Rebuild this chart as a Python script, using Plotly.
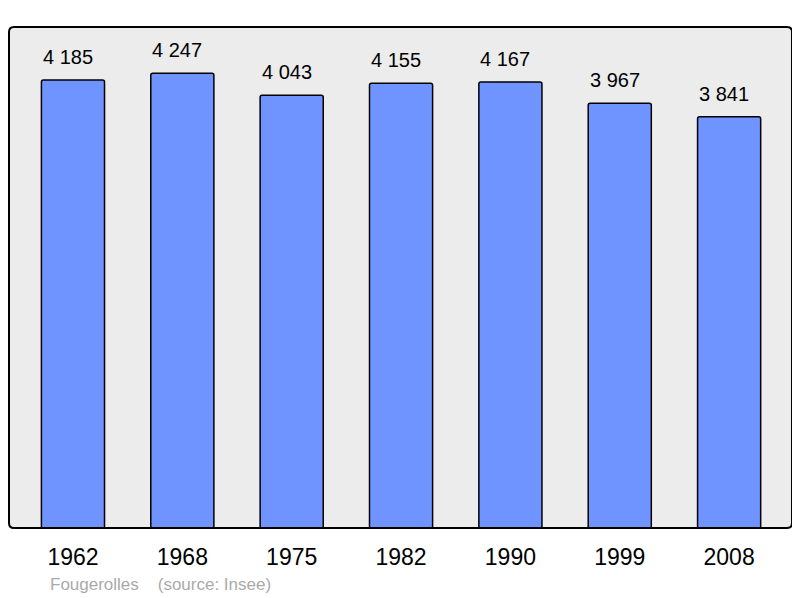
import plotly.graph_objects as go

years = ["1962", "1968", "1975", "1982", "1990", "1999", "2008"]
population = [4185, 4247, 4043, 4155, 4167, 3967, 3841]
value_labels = ["4 185", "4 247", "4 043", "4 155", "4 167", "3 967", "3 841"]

# the page has an 8px body margin, so the figure is drawn 8px smaller
W, H = 792, 590
L, R, T, B = 1, 8, 19, 70
FONT = "Liberation Sans, Arial, sans-serif"

fig = go.Figure()
fig.add_trace(go.Bar(
    x=years, y=population,
    width=0.577,
    marker=dict(color="#7094ff", line=dict(color="black", width=1.5), cornerradius=2),
    hoverinfo="skip",
))

for i, (v, lab) in enumerate(zip(population, value_labels)):
    fig.add_annotation(x=i, y=v, text=lab, showarrow=False, yanchor="bottom",
                       yshift=10, xshift=-5, font=dict(size=20, color="black", family=FONT))

pw, ph = W - L - R, H - T - B
fig.add_annotation(xref="paper", yref="paper", x=(40 - L) / pw, y=-(576 - (H - B)) / ph,
                   xanchor="left", yanchor="middle", showarrow=False,
                   text="Fougerolles&nbsp;&nbsp;&nbsp;&nbsp;(source: Insee)",
                   font=dict(size=17, color="#aaaaaa", family=FONT))

# rounded border around plot area
rx, ry = 5 / pw, 5 / ph
path = (f"M {rx},0 L {1-rx},0 Q 1,0 1,{ry} L 1,{1-ry} Q 1,1 {1-rx},1 "
        f"L {rx},1 Q 0,1 0,{1-ry} L 0,{ry} Q 0,0 {rx},0 Z")
fig.add_shape(type="path", xref="paper", yref="paper", path=path,
              line=dict(color="black", width=2), layer="above")

fig.update_layout(
    width=W, height=H,
    margin=dict(l=L, r=R, t=T, b=B),
    paper_bgcolor="white", plot_bgcolor="#ececec",
    showlegend=False,
    xaxis=dict(type="category", range=[-0.585, 6.575], showgrid=False, zeroline=False,
               showline=False, ticks="", ticklabelstandoff=13,
               tickfont=dict(size=23, color="black", family=FONT)),
    yaxis=dict(range=[0, 4680], showgrid=False, zeroline=False, showticklabels=False,
               showline=False, ticks=""),
)

fig.write_html("out.html")
